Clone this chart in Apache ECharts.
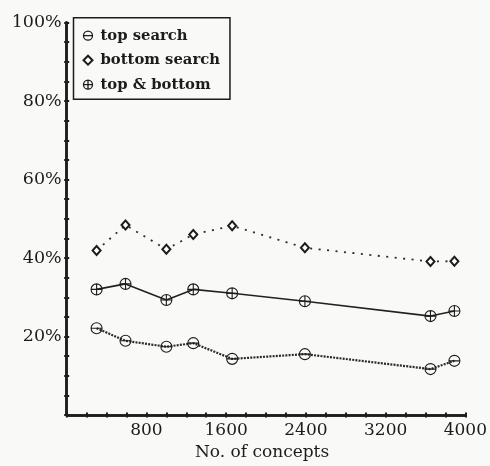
<!DOCTYPE html>
<html>
<head>
<meta charset="utf-8">
<script src="https://cdn.jsdelivr.net/npm/echarts@6/dist/echarts.min.js"></script>
<style>
html,body{margin:0;padding:0;background:#f9f9f7;}
#c{width:490px;height:466px;}
</style>
</head>
<body>
<div id="c"></div>
<script>
// Data
var concepts = [300, 590, 1000, 1270, 1660, 2390, 3650, 3890];
var topSearch = [22.1, 18.9, 17.4, 18.3, 14.3, 15.5, 11.7, 13.8];
var bottomSearch = [41.9, 48.4, 42.2, 46.0, 48.2, 42.6, 39.1, 39.2];
var topAndBottom = [32.0, 33.4, 29.3, 32.0, 31.0, 29.0, 25.2, 26.5];
var seriesNames = ['top search', 'bottom search', 'top & bottom'];
var xTickLabels = [800, 1600, 2400, 3200, 4000];
var yTickLabels = [20, 40, 60, 80, 100];
var xTitle = 'No. of concepts';

var INK = '#1c1c1c';
var SERIF = "'DejaVu Serif', 'Liberation Serif', serif";
var circleMinus = 'path://M0,10A10,10,0,1,1,20,10A10,10,0,1,1,0,10ZM0,10L20,10';
var circlePlus = 'path://M0,10A10,10,0,1,1,20,10A10,10,0,1,1,0,10ZM0,10L20,10M10,0L10,20';

function pairs(ys) { return concepts.map(function (x, i) { return [x, ys[i]]; }); }

var chart = echarts.init(document.getElementById('c'), null, {renderer: 'canvas'});

var baseX = {
  type: 'value', min: 0, max: 4000, interval: 200,
  axisLine: {show: true, onZero: false, lineStyle: {color: INK, width: 2.5}},
  splitLine: {show: false}
};
var baseY = {
  type: 'value', min: 0, max: 100, interval: 5,
  axisLine: {show: true, onZero: false, lineStyle: {color: INK, width: 2.5}},
  splitLine: {show: false}
};

chart.setOption({
  backgroundColor: '#f9f9f7',
  animation: false,
  grid: {left: 66.7, right: 24, top: 22.5, bottom: 51, containLabel: false},
  xAxis: [
    Object.assign({}, baseX, {
      position: 'bottom', offset: 0,
      axisTick: {show: true, length: 2.5, lineStyle: {color: INK, width: 2}},
      axisLabel: {
        margin: 7, color: INK, fontFamily: SERIF, fontSize: 17,
        formatter: function (v) { return xTickLabels.indexOf(v) >= 0 ? String(v) : ''; }
      },
      name: xTitle, nameLocation: 'middle', nameGap: 28,
      nameTextStyle: {color: INK, fontFamily: SERIF, fontSize: 17, padding: [0, 8, 0, 0]}
    }),
    Object.assign({}, baseX, {
      position: 'bottom', offset: 0,
      axisTick: {show: true, inside: true, length: 2.5, lineStyle: {color: INK, width: 2}},
      axisLabel: {show: false}
    })
  ],
  yAxis: [
    Object.assign({}, baseY, {
      position: 'left', offset: 0,
      axisTick: {show: true, length: 2.5, lineStyle: {color: INK, width: 2}},
      axisLabel: {
        margin: 5, color: INK, fontFamily: SERIF, fontSize: 17.5,
        formatter: function (v) { return yTickLabels.indexOf(v) >= 0 ? v + '%' : ''; }
      }
    }),
    Object.assign({}, baseY, {
      position: 'left', offset: 0,
      axisTick: {show: true, inside: true, length: 2.5, lineStyle: {color: INK, width: 2}},
      axisLabel: {show: false}
    })
  ],
  legend: {
    orient: 'vertical', left: 73.5, top: 17.7,
    borderColor: INK, borderWidth: 1.5, borderRadius: 0,
    padding: [10.5, 10, 7, 9],
    itemWidth: 9, itemHeight: 9, itemGap: 9.5,
    itemStyle: {color: 'rgba(0,0,0,0)', borderColor: INK, borderWidth: 1.3},
    textStyle: {color: INK, fontFamily: SERIF, fontWeight: 'bold', fontSize: 14.8, lineHeight: 14, padding: [0, 0, 0, 3]},
    data: [
      {name: seriesNames[0], icon: circleMinus},
      {name: seriesNames[1], icon: 'diamond', itemStyle: {color: '#fff', borderColor: INK, borderWidth: 2}},
      {name: seriesNames[2], icon: circlePlus}
    ]
  },
  series: [
    {
      name: seriesNames[0], type: 'line', data: pairs(topSearch),
      symbol: circleMinus, symbolSize: 11,
      itemStyle: {color: 'rgba(0,0,0,0)', borderColor: INK, borderWidth: 1.1},
      lineStyle: {color: '#2a2a2a', width: 2.2, type: [2, 1.2]}
    },
    {
      name: seriesNames[1], type: 'line', data: pairs(bottomSearch),
      symbol: 'diamond', symbolSize: [8, 9],
      itemStyle: {color: '#fff', borderColor: INK, borderWidth: 2},
      lineStyle: {color: '#2a2a2a', width: 1.8, type: [2, 6.5]}
    },
    {
      name: seriesNames[2], type: 'line', data: pairs(topAndBottom),
      symbol: circlePlus, symbolSize: 11,
      itemStyle: {color: 'rgba(0,0,0,0)', borderColor: INK, borderWidth: 1.1},
      lineStyle: {color: '#222', width: 1.6}
    }
  ]
});
</script>
</body>
</html>
